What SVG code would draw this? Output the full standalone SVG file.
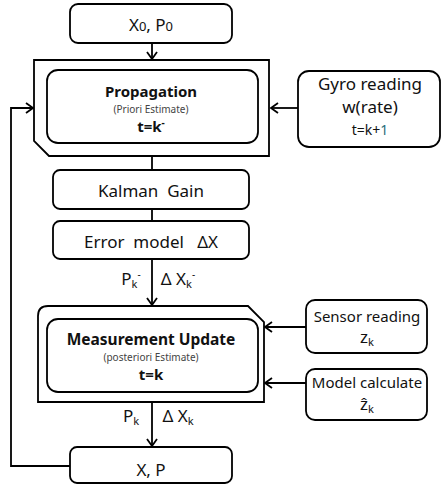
<svg xmlns="http://www.w3.org/2000/svg" width="442" height="487" viewBox="0 0 442 487">
<defs>
<style>
.box{fill:#fff;stroke:#000;stroke-width:1.8}
.ln{fill:none;stroke:#000;stroke-width:1.8}
text{font-family:"Noto Sans","Open Sans",sans-serif;fill:#111;text-anchor:middle}
.big{font-size:17px}
.mid{font-size:15px}
.bold{font-weight:bold;font-size:15px}
.tiny{font-size:10px;fill:#444}
</style>
<marker id="arr" markerWidth="12" markerHeight="12" refX="10" refY="6" orient="auto" markerUnits="userSpaceOnUse">
<polyline points="3,1 10,6 3,11" fill="none" stroke="#000" stroke-width="1.8"/>
</marker>
</defs>
<rect width="442" height="487" fill="#fff"/>
<g id="connectors">
<line class="ln" x1="152" y1="43" x2="152" y2="59" marker-end="url(#arr)"/>
<line class="ln" x1="298" y1="108" x2="271" y2="108" marker-end="url(#arr)"/>
<line class="ln" x1="152" y1="157" x2="152" y2="170"/>
<line class="ln" x1="152" y1="209" x2="152" y2="221"/>
<line class="ln" x1="152" y1="259" x2="152" y2="305" marker-end="url(#arr)"/>
<line class="ln" x1="306" y1="327" x2="265" y2="327" marker-end="url(#arr)"/>
<line class="ln" x1="306" y1="383" x2="265" y2="383" marker-end="url(#arr)"/>
<line class="ln" x1="152" y1="402" x2="152" y2="446" marker-end="url(#arr)"/>
<polyline class="ln" points="70,466 11,466 11,108 33,108" marker-end="url(#arr)"/>
</g>
<g id="init">
<rect class="box" x="70" y="4" width="162" height="39" rx="8"/>
<text class="big" x="151" y="31">X<tspan font-size="13">0</tspan>, P<tspan font-size="13">0</tspan></text>
</g>
<g id="propagation">
<path class="box" d="M34,60 H269 V156 H49 L34,141 Z"/>
<rect class="box" x="47" y="70" width="211" height="73" rx="11"/>
<text class="bold" x="151" y="97">Propagation</text>
<text class="tiny" x="151" y="113">(Priori Estimate)</text>
<text class="bold" x="151" y="132">t=k<tspan font-size="10" dy="-6">-</tspan></text>
</g>
<g id="gyro">
<rect class="box" x="298" y="71" width="142" height="76" rx="11"/>
<text class="big" x="370" y="90">Gyro reading</text>
<text class="big" x="370" y="113">w(rate)</text>
<text x="370" y="135" font-size="14">t=k+<tspan fill="#2a6f7a">1</tspan></text>
</g>
<g id="kalman">
<rect class="box" x="53" y="170" width="196" height="39" rx="7"/>
<text class="big" x="151" y="197" xml:space="preserve">Kalman  Gain</text>
</g>
<g id="error">
<rect class="box" x="53" y="221" width="196" height="38" rx="7"/>
<text class="big" x="151" y="248" xml:space="preserve">Error  model   ΔX</text>
</g>
<g id="label-minus">
<text class="big" x="131" y="285">P<tspan font-size="11" dy="3">k</tspan><tspan font-size="10" dy="-10">-</tspan></text>
<text class="big" x="178" y="285">Δ X<tspan font-size="11" dy="3">k</tspan><tspan font-size="10" dy="-10">-</tspan></text>
</g>
<g id="measurement">
<path class="box" d="M48,306 H248 L264,322 V402 H38 V316 Q38,306 48,306 Z"/>
<rect class="box" x="47" y="319" width="211" height="73" rx="11"/>
<text class="bold" x="151" y="345" style="font-size:15.5px">Measurement Update</text>
<text class="tiny" x="151" y="361">(posteriori Estimate)</text>
<text class="bold" x="151" y="380">t=k</text>
</g>
<g id="sensor">
<rect class="box" x="306" y="300" width="121" height="53" rx="9"/>
<text class="mid" x="367" y="322">Sensor reading</text>
<text class="big" x="367" y="343">z<tspan font-size="11" dy="3">k</tspan></text>
</g>
<g id="model">
<rect class="box" x="306" y="369" width="121" height="51" rx="9"/>
<text class="mid" x="367" y="388">Model calculate</text>
<text class="big" x="367" y="410">ẑ<tspan font-size="11" dy="3">k</tspan></text>
</g>
<g id="label-k">
<text class="big" x="131" y="422">P<tspan font-size="11" dy="3">k</tspan></text>
<text class="big" x="178" y="422">Δ X<tspan font-size="11" dy="3">k</tspan></text>
</g>
<g id="output">
<rect class="box" x="70" y="447" width="162" height="36" rx="7"/>
<text class="big" x="151" y="476">X, P</text>
</g>
</svg>
